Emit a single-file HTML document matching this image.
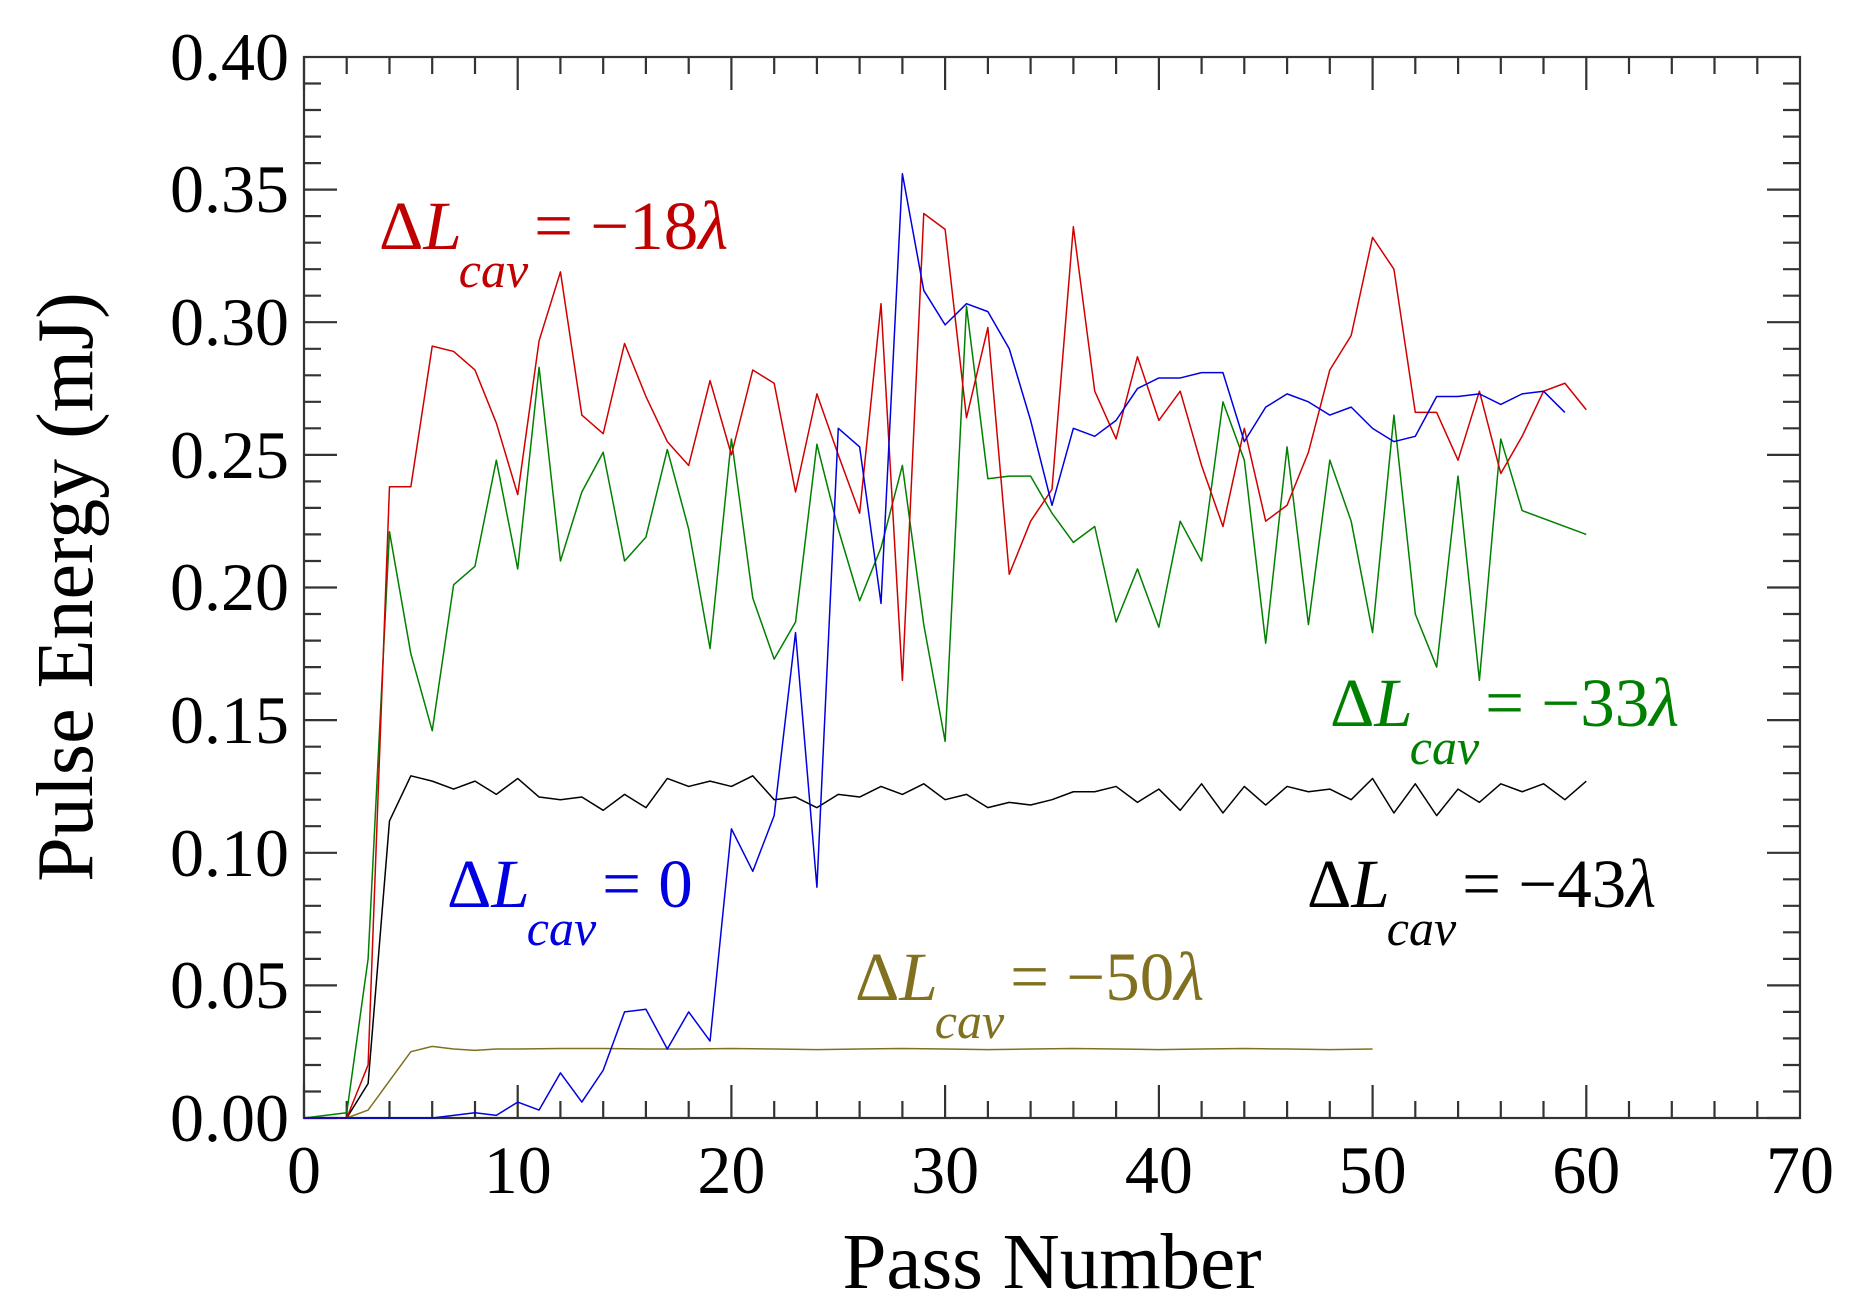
<!DOCTYPE html>
<html><head><meta charset="utf-8"><style>
html,body{margin:0;padding:0;background:#fff}
svg{display:block}
text{font-family:"Liberation Serif",serif}
</style></head><body>
<svg width="1857" height="1311" viewBox="0 0 1857 1311" xmlns="http://www.w3.org/2000/svg">
<g stroke="#333" stroke-width="2.2" fill="none">
<rect x="304" y="57" width="1496" height="1061"/>
<path d="
M304.0 1118v-33M304.0 57v33
M346.7 1118v-17M346.7 57v17M389.5 1118v-17M389.5 57v17M432.2 1118v-17M432.2 57v17M475.0 1118v-17M475.0 57v17
M517.7 1118v-33M517.7 57v33
M560.4 1118v-17M560.4 57v17M603.2 1118v-17M603.2 57v17M645.9 1118v-17M645.9 57v17M688.7 1118v-17M688.7 57v17
M731.4 1118v-33M731.4 57v33
M774.2 1118v-17M774.2 57v17M816.9 1118v-17M816.9 57v17M859.6 1118v-17M859.6 57v17M902.4 1118v-17M902.4 57v17
M945.1 1118v-33M945.1 57v33
M987.9 1118v-17M987.9 57v17M1030.6 1118v-17M1030.6 57v17M1073.4 1118v-17M1073.4 57v17M1116.1 1118v-17M1116.1 57v17
M1158.9 1118v-33M1158.9 57v33
M1201.6 1118v-17M1201.6 57v17M1244.3 1118v-17M1244.3 57v17M1287.1 1118v-17M1287.1 57v17M1329.8 1118v-17M1329.8 57v17
M1372.6 1118v-33M1372.6 57v33
M1415.3 1118v-17M1415.3 57v17M1458.1 1118v-17M1458.1 57v17M1500.8 1118v-17M1500.8 57v17M1543.5 1118v-17M1543.5 57v17
M1586.3 1118v-33M1586.3 57v33
M1629.0 1118v-17M1629.0 57v17M1671.8 1118v-17M1671.8 57v17M1714.5 1118v-17M1714.5 57v17M1757.3 1118v-17M1757.3 57v17
M304 1118h33M1800 1118h-33
M304 1091.5h17M1800 1091.5h-17M304 1065h17M1800 1065h-17M304 1038.4h17M1800 1038.4h-17M304 1011.9h17M1800 1011.9h-17
M304 985.4h33M1800 985.4h-33
M304 958.9h17M1800 958.9h-17M304 932.3h17M1800 932.3h-17M304 905.8h17M1800 905.8h-17M304 879.3h17M1800 879.3h-17
M304 852.8h33M1800 852.8h-33
M304 826.2h17M1800 826.2h-17M304 799.7h17M1800 799.7h-17M304 773.2h17M1800 773.2h-17M304 746.7h17M1800 746.7h-17
M304 720.1h33M1800 720.1h-33
M304 693.6h17M1800 693.6h-17M304 667.1h17M1800 667.1h-17M304 640.6h17M1800 640.6h-17M304 614h17M1800 614h-17
M304 587.5h33M1800 587.5h-33
M304 561h17M1800 561h-17M304 534.4h17M1800 534.4h-17M304 507.9h17M1800 507.9h-17M304 481.4h17M1800 481.4h-17
M304 454.9h33M1800 454.9h-33
M304 428.3h17M1800 428.3h-17M304 401.8h17M1800 401.8h-17M304 375.3h17M1800 375.3h-17M304 348.8h17M1800 348.8h-17
M304 322.2h33M1800 322.2h-33
M304 295.7h17M1800 295.7h-17M304 269.2h17M1800 269.2h-17M304 242.7h17M1800 242.7h-17M304 216.1h17M1800 216.1h-17
M304 189.6h33M1800 189.6h-33
M304 163.1h17M1800 163.1h-17M304 136.6h17M1800 136.6h-17M304 110h17M1800 110h-17M304 83.5h17M1800 83.5h-17
"/>
</g>
<g font-size="68" text-anchor="end" fill="#000">
<text x="289" y="1141">0.00</text><text x="289" y="1008">0.05</text><text x="289" y="876">0.10</text>
<text x="289" y="743">0.15</text><text x="289" y="610">0.20</text><text x="289" y="478">0.25</text>
<text x="289" y="345">0.30</text><text x="289" y="212">0.35</text><text x="289" y="80">0.40</text>
</g>
<g font-size="68" text-anchor="middle" fill="#000">
<text x="304" y="1193">0</text><text x="517.7" y="1193">10</text><text x="731.4" y="1193">20</text>
<text x="945.1" y="1193">30</text><text x="1158.9" y="1193">40</text><text x="1372.6" y="1193">50</text>
<text x="1586.3" y="1193">60</text><text x="1800" y="1193">70</text>
</g>
<text x="1052" y="1288" font-size="79" text-anchor="middle">Pass Number</text>
<text transform="translate(92,587) rotate(-90)" font-size="80" text-anchor="middle">Pulse Energy (mJ)</text>

<g transform="translate(304,1118) scale(21.371,-2652.5)" fill="none" stroke-width="1.5" stroke-linejoin="round">
<polyline vector-effect="non-scaling-stroke" stroke="#807020" points="0,0 2,0 3,0.003 4,0.014 5,0.025 6,0.027 7,0.026 8,0.0255 9,0.026 10,0.026 12,0.0262 14,0.0262 16,0.026 18,0.026 20,0.0262 22,0.026 24,0.0258 26,0.026 28,0.0262 30,0.026 32,0.0258 34,0.026 36,0.0262 38,0.026 40,0.0258 42,0.026 44,0.0262 46,0.026 48,0.0258 50,0.026"/>
<polyline vector-effect="non-scaling-stroke" stroke="#000" points="0,0 2,0 3,0.013 4,0.112 5,0.129 6,0.127 7,0.124 8,0.127 9,0.122 10,0.128 11,0.121 12,0.12 13,0.121 14,0.116 15,0.122 16,0.117 17,0.128 18,0.125 19,0.127 20,0.125 21,0.129 22,0.12 23,0.121 24,0.117 25,0.122 26,0.121 27,0.125 28,0.122 29,0.126 30,0.12 31,0.122 32,0.117 33,0.119 34,0.118 35,0.12 36,0.123 37,0.123 38,0.125 39,0.119 40,0.124 41,0.116 42,0.126 43,0.115 44,0.125 45,0.118 46,0.125 47,0.123 48,0.124 49,0.12 50,0.128 51,0.115 52,0.126 53,0.114 54,0.124 55,0.119 56,0.126 57,0.123 58,0.126 59,0.12 60,0.127"/>
<polyline vector-effect="non-scaling-stroke" stroke="#008000" points="0,0 2,0.002 3,0.06 4,0.221 5,0.175 6,0.146 7,0.201 8,0.208 9,0.248 10,0.207 11,0.283 12,0.21 13,0.236 14,0.251 15,0.21 16,0.219 17,0.252 18,0.222 19,0.177 20,0.256 21,0.196 22,0.173 23,0.187 24,0.254 25,0.222 26,0.195 27,0.215 28,0.246 29,0.186 30,0.142 31,0.306 32,0.241 33,0.242 34,0.242 35,0.228 36,0.217 37,0.223 38,0.187 39,0.207 40,0.185 41,0.225 42,0.21 43,0.27 44,0.248 45,0.179 46,0.253 47,0.186 48,0.248 49,0.225 50,0.183 51,0.265 52,0.19 53,0.17 54,0.242 55,0.165 56,0.256 57,0.229 60,0.22"/>
<polyline vector-effect="non-scaling-stroke" stroke="#d00000" points="0,0 2,0 3,0.02 4,0.238 5,0.238 6,0.291 7,0.289 8,0.282 9,0.262 10,0.235 11,0.293 12,0.319 13,0.265 14,0.258 15,0.292 16,0.272 17,0.255 18,0.246 19,0.278 20,0.25 21,0.282 22,0.277 23,0.236 24,0.273 25,0.25 26,0.228 27,0.307 28,0.165 29,0.341 30,0.335 31,0.264 32,0.298 33,0.205 34,0.225 35,0.237 36,0.336 37,0.274 38,0.256 39,0.287 40,0.263 41,0.274 42,0.246 43,0.223 44,0.26 45,0.225 46,0.231 47,0.251 48,0.282 49,0.295 50,0.332 51,0.32 52,0.266 53,0.266 54,0.248 55,0.274 56,0.243 57,0.257 58,0.274 59,0.277 60,0.267"/>
<polyline vector-effect="non-scaling-stroke" stroke="#0000e0" points="0,0 6,0 7,0.001 8,0.002 9,0.001 10,0.006 11,0.003 12,0.017 13,0.006 14,0.018 15,0.04 16,0.041 17,0.026 18,0.04 19,0.029 20,0.109 21,0.093 22,0.114 23,0.183 24,0.087 25,0.26 26,0.253 27,0.194 28,0.356 29,0.312 30,0.299 31,0.307 32,0.304 33,0.29 34,0.263 35,0.231 36,0.26 37,0.257 38,0.263 39,0.275 40,0.279 41,0.279 42,0.281 43,0.281 44,0.255 45,0.268 46,0.273 47,0.27 48,0.265 49,0.268 50,0.26 51,0.255 52,0.257 53,0.272 54,0.272 55,0.273 56,0.269 57,0.273 58,0.274 59,0.266"/>
</g>

<g font-size="69">
<text x="379" y="249" fill="#c00000">Δ<tspan font-style="italic">L</tspan><tspan font-style="italic" font-size="50" dx="-3" dy="38">cav</tspan><tspan dx="6" dy="-38">= −18</tspan><tspan font-style="italic">λ</tspan></text>
<text x="1330" y="726" fill="#008000">Δ<tspan font-style="italic">L</tspan><tspan font-style="italic" font-size="50" dx="-3" dy="38">cav</tspan><tspan dx="6" dy="-38">= −33</tspan><tspan font-style="italic">λ</tspan></text>
<text x="447" y="907" fill="#0000e0">Δ<tspan font-style="italic">L</tspan><tspan font-style="italic" font-size="50" dx="-3" dy="38">cav</tspan><tspan dx="6" dy="-38">= 0</tspan></text>
<text x="1307" y="907" fill="#000">Δ<tspan font-style="italic">L</tspan><tspan font-style="italic" font-size="50" dx="-3" dy="38">cav</tspan><tspan dx="6" dy="-38">= −43</tspan><tspan font-style="italic">λ</tspan></text>
<text x="855" y="1000" fill="#807020">Δ<tspan font-style="italic">L</tspan><tspan font-style="italic" font-size="50" dx="-3" dy="38">cav</tspan><tspan dx="6" dy="-38">= −50</tspan><tspan font-style="italic">λ</tspan></text>
</g>
</svg>
</body></html>
